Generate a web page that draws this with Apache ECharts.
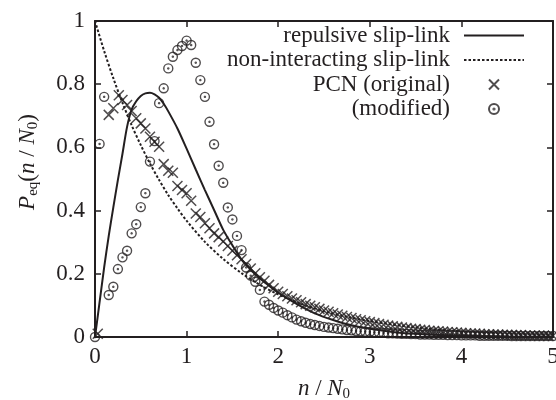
<!DOCTYPE html>
<html><head><meta charset="utf-8">
<script src="https://cdn.jsdelivr.net/npm/echarts@6/dist/echarts.min.js"></script>
<style>html,body{margin:0;padding:0;background:#fff}#c{width:556px;height:400px}</style>
</head><body><div id="c"></div>
<script>
const seriesNames = ['repulsive slip-link', 'non-interacting slip-link', 'PCN (original)', '(modified)'];

const repulsive = [[0,0],[0.05,0.11],[0.1,0.22],[0.15,0.32],[0.2,0.41],[0.25,0.497],[0.3,0.58],[0.35,0.665],[0.4,0.72],[0.45,0.746],[0.5,0.763],[0.55,0.771],[0.6,0.773],[0.65,0.768],[0.7,0.757],[0.75,0.738],[0.8,0.714],[0.9,0.66],[1.0,0.596],[1.1,0.53],[1.2,0.465],[1.3,0.402],[1.4,0.339],[1.5,0.29],[1.6,0.245],[1.7,0.213],[1.8,0.185],[1.9,0.162],[2.0,0.14],[2.2,0.105],[2.4,0.075],[2.6,0.054],[2.8,0.037],[3.0,0.026],[3.25,0.016],[3.5,0.01],[3.75,0.006],[4.0,0.004],[4.5,0.0015],[5.0,0.0006]];

const nonInteracting = [[0,1.0],[0.1,0.905],[0.2,0.819],[0.3,0.741],[0.4,0.67],[0.5,0.607],[0.6,0.549],[0.7,0.497],[0.8,0.449],[0.9,0.407],[1.0,0.368],[1.2,0.301],[1.4,0.247],[1.6,0.202],[1.8,0.165],[2.0,0.135],[2.25,0.105],[2.5,0.082],[2.75,0.064],[3.0,0.05],[3.5,0.03],[4.0,0.018],[4.5,0.011],[5.0,0.007]];

const pcnOriginal = [[0.03,0.01],[0.15,0.703],[0.2,0.724],[0.26,0.765],[0.3,0.75],[0.35,0.734],[0.4,0.715],[0.45,0.692],[0.5,0.676],[0.55,0.66],
[0.6,0.634],[0.65,0.618],[0.7,0.602],[0.75,0.547],[0.8,0.526],[0.85,0.52],[0.9,0.478],[0.95,0.465],[1.0,0.455],[1.05,0.431],
[1.1,0.391],[1.15,0.38],[1.2,0.36],[1.25,0.344],[1.3,0.328],[1.35,0.316],[1.4,0.302],[1.45,0.288],[1.5,0.273],[1.55,0.259],
[1.6,0.246],[1.65,0.231],[1.7,0.217],[1.75,0.202],[1.8,0.189],[1.85,0.178],[1.9,0.165],[1.95,0.154],
[2.0,0.143],[2.05,0.136],[2.1,0.129],[2.15,0.122],[2.2,0.116],[2.25,0.110],[2.3,0.104],[2.35,0.099],[2.4,0.094],[2.45,0.089],
[2.5,0.084],[2.55,0.080],[2.6,0.075],[2.65,0.071],[2.7,0.067],[2.75,0.063],[2.8,0.060],[2.85,0.056],[2.9,0.053],[2.95,0.050],[3.0,0.047],
[3.05,0.044],[3.1,0.041],[3.15,0.039],[3.2,0.036],[3.25,0.034],[3.3,0.032],[3.35,0.030],[3.4,0.028],[3.45,0.026],[3.5,0.025],
[3.55,0.023],[3.6,0.022],[3.65,0.020],[3.7,0.019],[3.75,0.018],[3.8,0.017],[3.85,0.016],[3.9,0.015],[3.95,0.014],[4.0,0.013],
[4.05,0.012],[4.1,0.011],[4.15,0.011],[4.2,0.010],[4.25,0.009],[4.3,0.009],[4.35,0.008],[4.4,0.008],[4.45,0.007],[4.5,0.007],
[4.55,0.006],[4.6,0.006],[4.65,0.006],[4.7,0.005],[4.75,0.005],[4.8,0.005],[4.85,0.004],[4.9,0.004],[4.95,0.004],[5.0,0.004]];

const modified = [[0,0],[0.05,0.611],[0.1,0.76],[0.15,0.133],[0.2,0.159],[0.25,0.215],[0.3,0.252],[0.35,0.273],[0.4,0.328],[0.45,0.357],
[0.5,0.411],[0.55,0.455],[0.6,0.555],[0.65,0.62],[0.7,0.74],[0.75,0.787],[0.8,0.85],[0.85,0.887],[0.9,0.908],[0.95,0.921],
[1.0,0.938],[1.05,0.924],[1.1,0.868],[1.15,0.813],[1.2,0.76],[1.25,0.681],[1.3,0.61],[1.35,0.542],[1.4,0.488],[1.45,0.41],
[1.5,0.372],[1.55,0.32],[1.6,0.275],[1.65,0.22],[1.7,0.194],[1.75,0.175],[1.8,0.149],[1.85,0.112],[1.9,0.102],[1.95,0.092],
[2.0,0.084],[2.05,0.077],[2.1,0.069],[2.15,0.062],[2.2,0.055],[2.25,0.05],[2.3,0.045],[2.35,0.041],[2.4,0.038],[2.45,0.035],
[2.5,0.032],[2.55,0.030],[2.6,0.028],[2.65,0.026],[2.7,0.024],[2.75,0.022],[2.8,0.021],[2.85,0.019],[2.9,0.018],[2.95,0.017],
[3.0,0.016],[3.05,0.015],[3.1,0.014],[3.15,0.013],[3.2,0.012],[3.25,0.012],[3.3,0.011],[3.35,0.010],[3.4,0.010],[3.45,0.009],
[3.5,0.009],[3.55,0.008],[3.6,0.008],[3.65,0.008],[3.7,0.007],[3.75,0.007],[3.8,0.007],[3.85,0.006],[3.9,0.006],[3.95,0.006],
[4.0,0.005],[4.05,0.005],[4.1,0.005],[4.15,0.005],[4.2,0.004],[4.25,0.004],[4.3,0.004],[4.35,0.004],[4.4,0.004],[4.45,0.004],
[4.5,0.004],[4.55,0.003],[4.6,0.003],[4.65,0.003],[4.7,0.003],[4.75,0.003],[4.8,0.003],[4.85,0.003],[4.9,0.003],[4.95,0.003],[5.0,0.003]];

const FONT = '"Liberation Serif","Times New Roman",serif';
const INK = '#231f20';
const crossPath = 'path://M0,0L10,10M10,0L0,10';
const circleDotPath = 'path://M10,5A5,5,0,1,1,0,5A5,5,0,1,1,10,5M5.6,5A0.6,0.6,0,1,1,4.4,5A0.6,0.6,0,1,1,5.6,5';

const richBase = {
  i: {fontFamily: FONT, fontStyle: 'italic', fontSize: 23, color: INK, lineHeight: 24},
  n: {fontFamily: FONT, fontSize: 23, color: INK, lineHeight: 24},
  sub: {fontFamily: FONT, fontSize: 15, color: INK, lineHeight: 14, padding: [10, 0, 0, 0]}
};

function axisCommon() {
  return {
    axisLine: {onZero: false, lineStyle: {color: INK, width: 2}},
    axisTick: {inside: true, length: 6, lineStyle: {color: INK, width: 1.5}},
    splitLine: {show: false}
  };
}

const hiddenDot = {color: 'rgba(0,0,0,0)', borderColor: 'rgba(0,0,0,0)', borderWidth: 0};

const chart = echarts.init(document.getElementById('c'), null, {renderer: 'canvas'});
chart.setOption({
  backgroundColor: '#fff',
  animation: false,
  grid: {left: 95, right: 3, top: 21, bottom: 63, containLabel: false, outerBoundsMode: 'none'},
  xAxis: [
    Object.assign({
      type: 'value', min: 0, max: 5, interval: 1, position: 'bottom',
      axisLabel: {fontFamily: FONT, fontSize: 23, color: INK, margin: 8},
      name: '{i|n}{n| / }{i|N}{sub|0}', nameLocation: 'middle', nameGap: 40,
      nameTextStyle: {rich: richBase}
    }, axisCommon()),
    Object.assign({
      type: 'value', min: 0, max: 5, interval: 1, position: 'top',
      axisLabel: {show: false}
    }, axisCommon())
  ],
  yAxis: [
    Object.assign({
      type: 'value', min: 0, max: 1, interval: 0.2, position: 'left',
      axisLabel: {fontFamily: FONT, fontSize: 23, color: INK, margin: 10},
      name: '{i|P}{sub|eq}{n|(}{i|n}{n| / }{i|N}{sub|0}{n|)}', nameLocation: 'middle', nameGap: 55, nameRotate: 90,
      nameTextStyle: {rich: richBase, padding: [0, 0, 0, 34]}
    }, axisCommon()),
    Object.assign({
      type: 'value', min: 0, max: 1, interval: 0.2, position: 'right',
      axisLabel: {show: false}
    }, axisCommon())
  ],
  legend: {
    orient: 'vertical', right: 31, top: 24, align: 'right', padding: 0,
    itemWidth: 60, itemHeight: 10, itemGap: 1.5,
    textStyle: {fontFamily: FONT, fontSize: 23, color: INK, lineHeight: 22, padding: [0, 9, 0, 0]},
    data: [
      {name: seriesNames[0], itemStyle: hiddenDot},
      {name: seriesNames[1], itemStyle: hiddenDot},
      {name: seriesNames[2]},
      {name: seriesNames[3]}
    ]
  },
  series: [
    {name: seriesNames[0], type: 'line', data: repulsive, symbol: 'none', smooth: 0.3,
     lineStyle: {color: INK, width: 2}, itemStyle: {color: INK}},
    {name: seriesNames[1], type: 'line', data: nonInteracting, symbol: 'none', smooth: 0.3,
     lineStyle: {color: INK, width: 2, type: [2.5, 2]}, itemStyle: {color: INK}},
    {name: seriesNames[2], type: 'scatter', data: pcnOriginal, symbol: crossPath, symbolSize: 10,
     itemStyle: {color: 'transparent', borderColor: INK, borderWidth: 1.5}},
    {name: seriesNames[3], type: 'scatter', data: modified, symbol: circleDotPath, symbolSize: 9,
     itemStyle: {color: 'transparent', borderColor: INK, borderWidth: 1.4}}
  ]
});
</script>
</body></html>
